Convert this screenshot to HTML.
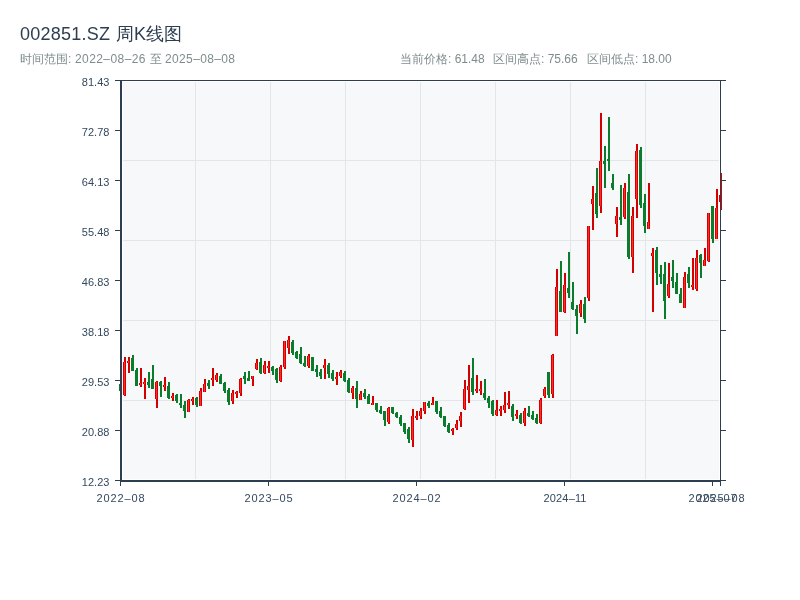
<!DOCTYPE html>
<html><head><meta charset="utf-8">
<style>
html,body{margin:0;padding:0;background:#fff;width:800px;height:600px;overflow:hidden}
svg{display:block}
text{font-family:"Liberation Sans",sans-serif;filter:saturate(1)}
.tk{font-size:11px;fill:#34495e}
.hd{font-size:12px;fill:#7f8c8d}
</style></head><body>
<svg width="800" height="600" viewBox="0 0 800 600">
<defs>
<linearGradient id="rg" x1="0" y1="0" x2="1" y2="0">
<stop offset="0" stop-color="#d40000"/><stop offset="0.34" stop-color="#d40000"/>
<stop offset="0.34" stop-color="#ff2a2a"/><stop offset="0.66" stop-color="#ff2a2a"/>
<stop offset="0.66" stop-color="#d40000"/><stop offset="1" stop-color="#d40000"/>
</linearGradient>
</defs>
<text x="20" y="40" font-size="18" fill="#2c3e50" textLength="90">002851.SZ</text><text x="116" y="40" font-size="18" fill="#2c3e50">周K线图</text>
<text x="20" y="62.8" class="hd">时间范围:</text><text x="75" y="62.8" class="hd" textLength="70.5">2022–08–26</text><text x="149.5" y="62.8" class="hd">至</text><text x="165" y="62.8" class="hd" textLength="70">2025–08–08</text>
<text x="400" y="62.8" class="hd">当前价格: 61.48</text>
<text x="493" y="62.8" class="hd">区间高点: 75.66</text>
<text x="587" y="62.8" class="hd">区间低点: 18.00</text>
<rect x="123" y="82" width="596" height="397" fill="#f7f8fa"/>
<g fill="#e2e6ea">
<rect x="195" y="82" width="1" height="397"/><rect x="270" y="82" width="1" height="397"/><rect x="345" y="82" width="1" height="397"/><rect x="420" y="82" width="1" height="397"/><rect x="495" y="82" width="1" height="397"/><rect x="570" y="82" width="1" height="397"/><rect x="645" y="82" width="1" height="397"/>
<rect x="123" y="160" width="596" height="1"/><rect x="123" y="240" width="596" height="1"/><rect x="123" y="320" width="596" height="1"/><rect x="123" y="400" width="596" height="1"/>
</g>
<g>
<rect x="120" y="382" width="2" height="11" fill="#0a7d2c"/>
<rect x="119" y="384" width="3" height="7" fill="#0a7d2c"/>
<rect x="124" y="357" width="2" height="39" fill="#d40000"/>
<rect x="123" y="362" width="3" height="33" fill="url(#rg)"/>
<rect x="128" y="357" width="2" height="16" fill="#d40000"/>
<rect x="127" y="361" width="3" height="2" fill="url(#rg)"/>
<rect x="132" y="355" width="2" height="16" fill="#0a7d2c"/>
<rect x="131" y="358" width="3" height="13" fill="#0a7d2c"/>
<rect x="136" y="368" width="2" height="18" fill="#0a7d2c"/>
<rect x="135" y="370" width="3" height="16" fill="#0a7d2c"/>
<rect x="140" y="368" width="2" height="19" fill="#d40000"/>
<rect x="139" y="383" width="3" height="2" fill="url(#rg)"/>
<rect x="144" y="378" width="2" height="21" fill="#d40000"/>
<rect x="143" y="382" width="3" height="2" fill="url(#rg)"/>
<rect x="148" y="372" width="2" height="16" fill="#0a7d2c"/>
<rect x="147" y="382" width="3" height="3" fill="#0a7d2c"/>
<rect x="152" y="365" width="2" height="24" fill="#0a7d2c"/>
<rect x="151" y="379" width="3" height="10" fill="#0a7d2c"/>
<rect x="156" y="381" width="2" height="27" fill="#d40000"/>
<rect x="155" y="382" width="3" height="17" fill="url(#rg)"/>
<rect x="160" y="381" width="2" height="16" fill="#0a7d2c"/>
<rect x="159" y="382" width="3" height="4" fill="#0a7d2c"/>
<rect x="164" y="377" width="2" height="14" fill="#d40000"/>
<rect x="163" y="385" width="3" height="2" fill="url(#rg)"/>
<rect x="168" y="382" width="2" height="17" fill="#0a7d2c"/>
<rect x="167" y="386" width="3" height="12" fill="#0a7d2c"/>
<rect x="172" y="393" width="2" height="8" fill="#d40000"/>
<rect x="171" y="396" width="3" height="2" fill="url(#rg)"/>
<rect x="176" y="394" width="2" height="9" fill="#0a7d2c"/>
<rect x="175" y="395" width="3" height="6" fill="#0a7d2c"/>
<rect x="180" y="394" width="2" height="14" fill="#0a7d2c"/>
<rect x="179" y="403" width="3" height="2" fill="#0a7d2c"/>
<rect x="184" y="401" width="2" height="17" fill="#0a7d2c"/>
<rect x="183" y="405" width="3" height="6" fill="#0a7d2c"/>
<rect x="188" y="399" width="2" height="13" fill="#d40000"/>
<rect x="187" y="400" width="3" height="12" fill="url(#rg)"/>
<rect x="192" y="397" width="2" height="8" fill="#d40000"/>
<rect x="191" y="399" width="3" height="2" fill="url(#rg)"/>
<rect x="196" y="397" width="2" height="10" fill="#0a7d2c"/>
<rect x="195" y="398" width="3" height="7" fill="#0a7d2c"/>
<rect x="200" y="388" width="2" height="18" fill="#d40000"/>
<rect x="199" y="391" width="3" height="15" fill="url(#rg)"/>
<rect x="204" y="379" width="2" height="13" fill="#d40000"/>
<rect x="203" y="384" width="3" height="8" fill="url(#rg)"/>
<rect x="208" y="380" width="2" height="9" fill="#0a7d2c"/>
<rect x="207" y="383" width="3" height="3" fill="#0a7d2c"/>
<rect x="212" y="368" width="2" height="18" fill="#d40000"/>
<rect x="211" y="378" width="3" height="2" fill="url(#rg)"/>
<rect x="216" y="373" width="2" height="9" fill="#d40000"/>
<rect x="215" y="375" width="3" height="5" fill="url(#rg)"/>
<rect x="220" y="374" width="2" height="10" fill="#0a7d2c"/>
<rect x="219" y="376" width="3" height="8" fill="#0a7d2c"/>
<rect x="224" y="382" width="2" height="11" fill="#0a7d2c"/>
<rect x="223" y="383" width="3" height="8" fill="#0a7d2c"/>
<rect x="228" y="388" width="2" height="17" fill="#0a7d2c"/>
<rect x="227" y="390" width="3" height="12" fill="#0a7d2c"/>
<rect x="232" y="390" width="2" height="14" fill="#d40000"/>
<rect x="231" y="393" width="3" height="8" fill="url(#rg)"/>
<rect x="236" y="391" width="2" height="7" fill="#d40000"/>
<rect x="235" y="392" width="3" height="2" fill="url(#rg)"/>
<rect x="240" y="378" width="2" height="18" fill="#d40000"/>
<rect x="239" y="379" width="3" height="14" fill="url(#rg)"/>
<rect x="244" y="372" width="2" height="12" fill="#0a7d2c"/>
<rect x="243" y="376" width="3" height="3" fill="#0a7d2c"/>
<rect x="248" y="371" width="2" height="10" fill="#0a7d2c"/>
<rect x="247" y="378" width="3" height="3" fill="#0a7d2c"/>
<rect x="252" y="376" width="2" height="10" fill="#d40000"/>
<rect x="251" y="376" width="3" height="3" fill="url(#rg)"/>
<rect x="256" y="359" width="2" height="11" fill="#d40000"/>
<rect x="255" y="363" width="3" height="6" fill="url(#rg)"/>
<rect x="260" y="358" width="2" height="16" fill="#0a7d2c"/>
<rect x="259" y="362" width="3" height="11" fill="#0a7d2c"/>
<rect x="264" y="361" width="2" height="13" fill="#d40000"/>
<rect x="263" y="365" width="3" height="8" fill="url(#rg)"/>
<rect x="268" y="361" width="2" height="12" fill="#d40000"/>
<rect x="267" y="366" width="3" height="2" fill="url(#rg)"/>
<rect x="272" y="366" width="2" height="9" fill="#0a7d2c"/>
<rect x="271" y="367" width="3" height="4" fill="#0a7d2c"/>
<rect x="276" y="368" width="2" height="15" fill="#0a7d2c"/>
<rect x="275" y="369" width="3" height="11" fill="#0a7d2c"/>
<rect x="280" y="365" width="2" height="17" fill="#d40000"/>
<rect x="279" y="367" width="3" height="14" fill="url(#rg)"/>
<rect x="284" y="341" width="2" height="28" fill="#d40000"/>
<rect x="283" y="341" width="3" height="26" fill="url(#rg)"/>
<rect x="288" y="336" width="2" height="18" fill="#d40000"/>
<rect x="287" y="340" width="3" height="8" fill="url(#rg)"/>
<rect x="292" y="340" width="2" height="15" fill="#0a7d2c"/>
<rect x="291" y="342" width="3" height="11" fill="#0a7d2c"/>
<rect x="296" y="351" width="2" height="8" fill="#0a7d2c"/>
<rect x="295" y="352" width="3" height="6" fill="#0a7d2c"/>
<rect x="300" y="347" width="2" height="17" fill="#0a7d2c"/>
<rect x="299" y="354" width="3" height="9" fill="#0a7d2c"/>
<rect x="304" y="356" width="2" height="11" fill="#0a7d2c"/>
<rect x="303" y="363" width="3" height="3" fill="#0a7d2c"/>
<rect x="308" y="354" width="2" height="14" fill="#d40000"/>
<rect x="307" y="356" width="3" height="10" fill="url(#rg)"/>
<rect x="312" y="357" width="2" height="14" fill="#0a7d2c"/>
<rect x="311" y="357" width="3" height="14" fill="#0a7d2c"/>
<rect x="316" y="365" width="2" height="12" fill="#0a7d2c"/>
<rect x="315" y="369" width="3" height="3" fill="#0a7d2c"/>
<rect x="320" y="369" width="2" height="10" fill="#0a7d2c"/>
<rect x="319" y="372" width="3" height="4" fill="#0a7d2c"/>
<rect x="324" y="359" width="2" height="20" fill="#d40000"/>
<rect x="323" y="365" width="3" height="3" fill="url(#rg)"/>
<rect x="328" y="363" width="2" height="15" fill="#0a7d2c"/>
<rect x="327" y="365" width="3" height="9" fill="#0a7d2c"/>
<rect x="332" y="370" width="2" height="11" fill="#0a7d2c"/>
<rect x="331" y="373" width="3" height="6" fill="#0a7d2c"/>
<rect x="336" y="372" width="2" height="13" fill="#d40000"/>
<rect x="335" y="377" width="3" height="2" fill="url(#rg)"/>
<rect x="340" y="370" width="2" height="8" fill="#d40000"/>
<rect x="339" y="372" width="3" height="4" fill="url(#rg)"/>
<rect x="344" y="371" width="2" height="11" fill="#0a7d2c"/>
<rect x="343" y="373" width="3" height="8" fill="#0a7d2c"/>
<rect x="348" y="378" width="2" height="15" fill="#0a7d2c"/>
<rect x="347" y="380" width="3" height="12" fill="#0a7d2c"/>
<rect x="352" y="386" width="2" height="13" fill="#d40000"/>
<rect x="351" y="388" width="3" height="5" fill="url(#rg)"/>
<rect x="356" y="381" width="2" height="27" fill="#0a7d2c"/>
<rect x="355" y="388" width="3" height="11" fill="#0a7d2c"/>
<rect x="360" y="391" width="2" height="9" fill="#d40000"/>
<rect x="359" y="394" width="3" height="6" fill="url(#rg)"/>
<rect x="364" y="389" width="2" height="10" fill="#0a7d2c"/>
<rect x="363" y="393" width="3" height="4" fill="#0a7d2c"/>
<rect x="368" y="394" width="2" height="10" fill="#0a7d2c"/>
<rect x="367" y="396" width="3" height="8" fill="#0a7d2c"/>
<rect x="372" y="396" width="2" height="9" fill="#d40000"/>
<rect x="371" y="403" width="3" height="2" fill="url(#rg)"/>
<rect x="376" y="403" width="2" height="9" fill="#0a7d2c"/>
<rect x="375" y="403" width="3" height="7" fill="#0a7d2c"/>
<rect x="380" y="406" width="2" height="8" fill="#0a7d2c"/>
<rect x="379" y="410" width="3" height="3" fill="#0a7d2c"/>
<rect x="384" y="411" width="2" height="15" fill="#0a7d2c"/>
<rect x="383" y="411" width="3" height="9" fill="#0a7d2c"/>
<rect x="388" y="407" width="2" height="17" fill="#d40000"/>
<rect x="387" y="408" width="3" height="14" fill="url(#rg)"/>
<rect x="392" y="407" width="2" height="7" fill="#0a7d2c"/>
<rect x="391" y="407" width="3" height="6" fill="#0a7d2c"/>
<rect x="396" y="412" width="2" height="6" fill="#0a7d2c"/>
<rect x="395" y="413" width="3" height="4" fill="#0a7d2c"/>
<rect x="400" y="415" width="2" height="11" fill="#0a7d2c"/>
<rect x="399" y="417" width="3" height="7" fill="#0a7d2c"/>
<rect x="404" y="423" width="2" height="11" fill="#0a7d2c"/>
<rect x="403" y="423" width="3" height="9" fill="#0a7d2c"/>
<rect x="408" y="427" width="2" height="16" fill="#0a7d2c"/>
<rect x="407" y="429" width="3" height="10" fill="#0a7d2c"/>
<rect x="412" y="409" width="2" height="38" fill="#d40000"/>
<rect x="411" y="416" width="3" height="24" fill="url(#rg)"/>
<rect x="416" y="411" width="2" height="9" fill="#d40000"/>
<rect x="415" y="416" width="3" height="2" fill="url(#rg)"/>
<rect x="420" y="408" width="2" height="11" fill="#d40000"/>
<rect x="419" y="411" width="3" height="5" fill="url(#rg)"/>
<rect x="424" y="402" width="2" height="12" fill="#d40000"/>
<rect x="423" y="402" width="3" height="9" fill="url(#rg)"/>
<rect x="428" y="401" width="2" height="7" fill="#0a7d2c"/>
<rect x="427" y="403" width="3" height="3" fill="#0a7d2c"/>
<rect x="432" y="397" width="2" height="8" fill="#d40000"/>
<rect x="431" y="403" width="3" height="2" fill="url(#rg)"/>
<rect x="436" y="401" width="2" height="13" fill="#0a7d2c"/>
<rect x="435" y="401" width="3" height="11" fill="#0a7d2c"/>
<rect x="440" y="407" width="2" height="11" fill="#0a7d2c"/>
<rect x="439" y="411" width="3" height="6" fill="#0a7d2c"/>
<rect x="444" y="416" width="2" height="11" fill="#0a7d2c"/>
<rect x="443" y="416" width="3" height="10" fill="#0a7d2c"/>
<rect x="448" y="423" width="2" height="10" fill="#0a7d2c"/>
<rect x="447" y="425" width="3" height="7" fill="#0a7d2c"/>
<rect x="452" y="428" width="2" height="7" fill="#d40000"/>
<rect x="451" y="429" width="3" height="2" fill="url(#rg)"/>
<rect x="456" y="420" width="2" height="10" fill="#d40000"/>
<rect x="455" y="424" width="3" height="4" fill="url(#rg)"/>
<rect x="460" y="412" width="2" height="15" fill="#d40000"/>
<rect x="459" y="416" width="3" height="5" fill="url(#rg)"/>
<rect x="464" y="380" width="2" height="30" fill="#d40000"/>
<rect x="463" y="389" width="3" height="20" fill="url(#rg)"/>
<rect x="468" y="365" width="2" height="38" fill="#d40000"/>
<rect x="467" y="386" width="3" height="4" fill="url(#rg)"/>
<rect x="472" y="358" width="2" height="37" fill="#0a7d2c"/>
<rect x="471" y="378" width="3" height="14" fill="#0a7d2c"/>
<rect x="476" y="375" width="2" height="18" fill="#d40000"/>
<rect x="475" y="389" width="3" height="2" fill="url(#rg)"/>
<rect x="480" y="381" width="2" height="14" fill="#d40000"/>
<rect x="479" y="389" width="3" height="2" fill="url(#rg)"/>
<rect x="484" y="379" width="2" height="21" fill="#0a7d2c"/>
<rect x="483" y="393" width="3" height="5" fill="#0a7d2c"/>
<rect x="488" y="396" width="2" height="12" fill="#0a7d2c"/>
<rect x="487" y="398" width="3" height="5" fill="#0a7d2c"/>
<rect x="492" y="400" width="2" height="16" fill="#0a7d2c"/>
<rect x="491" y="401" width="3" height="13" fill="#0a7d2c"/>
<rect x="496" y="400" width="2" height="16" fill="#d40000"/>
<rect x="495" y="410" width="3" height="5" fill="url(#rg)"/>
<rect x="500" y="406" width="2" height="10" fill="#d40000"/>
<rect x="499" y="409" width="3" height="2" fill="url(#rg)"/>
<rect x="504" y="392" width="2" height="21" fill="#d40000"/>
<rect x="503" y="405" width="3" height="5" fill="url(#rg)"/>
<rect x="508" y="391" width="2" height="18" fill="#d40000"/>
<rect x="507" y="403" width="3" height="2" fill="url(#rg)"/>
<rect x="512" y="404" width="2" height="17" fill="#0a7d2c"/>
<rect x="511" y="406" width="3" height="11" fill="#0a7d2c"/>
<rect x="516" y="410" width="2" height="9" fill="#d40000"/>
<rect x="515" y="414" width="3" height="2" fill="url(#rg)"/>
<rect x="520" y="413" width="2" height="11" fill="#0a7d2c"/>
<rect x="519" y="415" width="3" height="8" fill="#0a7d2c"/>
<rect x="524" y="408" width="2" height="18" fill="#d40000"/>
<rect x="523" y="411" width="3" height="12" fill="url(#rg)"/>
<rect x="528" y="406" width="2" height="11" fill="#0a7d2c"/>
<rect x="527" y="413" width="3" height="3" fill="#0a7d2c"/>
<rect x="532" y="411" width="2" height="9" fill="#0a7d2c"/>
<rect x="531" y="415" width="3" height="4" fill="#0a7d2c"/>
<rect x="536" y="414" width="2" height="10" fill="#0a7d2c"/>
<rect x="535" y="418" width="3" height="5" fill="#0a7d2c"/>
<rect x="540" y="398" width="2" height="26" fill="#d40000"/>
<rect x="539" y="400" width="3" height="23" fill="url(#rg)"/>
<rect x="544" y="387" width="2" height="11" fill="#d40000"/>
<rect x="543" y="389" width="3" height="7" fill="url(#rg)"/>
<rect x="548" y="372" width="2" height="26" fill="#0a7d2c"/>
<rect x="547" y="372" width="3" height="23" fill="#0a7d2c"/>
<rect x="552" y="354" width="2" height="44" fill="#d40000"/>
<rect x="551" y="355" width="3" height="39" fill="url(#rg)"/>
<rect x="556" y="269" width="2" height="67" fill="#d40000"/>
<rect x="555" y="287" width="3" height="49" fill="url(#rg)"/>
<rect x="560" y="261" width="2" height="51" fill="#0a7d2c"/>
<rect x="559" y="291" width="3" height="21" fill="#0a7d2c"/>
<rect x="564" y="273" width="2" height="40" fill="#d40000"/>
<rect x="563" y="285" width="3" height="27" fill="url(#rg)"/>
<rect x="568" y="252" width="2" height="46" fill="#0a7d2c"/>
<rect x="567" y="288" width="3" height="5" fill="#0a7d2c"/>
<rect x="572" y="282" width="2" height="28" fill="#0a7d2c"/>
<rect x="571" y="302" width="3" height="7" fill="#0a7d2c"/>
<rect x="576" y="305" width="2" height="29" fill="#0a7d2c"/>
<rect x="575" y="309" width="3" height="7" fill="#0a7d2c"/>
<rect x="580" y="300" width="2" height="17" fill="#d40000"/>
<rect x="579" y="304" width="3" height="9" fill="url(#rg)"/>
<rect x="584" y="297" width="2" height="26" fill="#0a7d2c"/>
<rect x="583" y="304" width="3" height="15" fill="#0a7d2c"/>
<rect x="588" y="226" width="2" height="75" fill="#d40000"/>
<rect x="587" y="226" width="3" height="72" fill="url(#rg)"/>
<rect x="592" y="186" width="2" height="44" fill="#d40000"/>
<rect x="591" y="199" width="3" height="5" fill="url(#rg)"/>
<rect x="596" y="168" width="2" height="50" fill="#0a7d2c"/>
<rect x="595" y="193" width="3" height="21" fill="#0a7d2c"/>
<rect x="600" y="113" width="2" height="100" fill="#d40000"/>
<rect x="599" y="161" width="3" height="45" fill="url(#rg)"/>
<rect x="604" y="146" width="2" height="42" fill="#0a7d2c"/>
<rect x="603" y="161" width="3" height="3" fill="#0a7d2c"/>
<rect x="608" y="117" width="2" height="54" fill="#0a7d2c"/>
<rect x="607" y="159" width="3" height="2" fill="#0a7d2c"/>
<rect x="612" y="174" width="2" height="16" fill="#0a7d2c"/>
<rect x="611" y="183" width="3" height="5" fill="#0a7d2c"/>
<rect x="616" y="207" width="2" height="30" fill="#d40000"/>
<rect x="615" y="216" width="3" height="8" fill="url(#rg)"/>
<rect x="620" y="185" width="2" height="40" fill="#0a7d2c"/>
<rect x="619" y="217" width="3" height="3" fill="#0a7d2c"/>
<rect x="624" y="183" width="2" height="36" fill="#d40000"/>
<rect x="623" y="188" width="3" height="29" fill="url(#rg)"/>
<rect x="628" y="174" width="2" height="85" fill="#0a7d2c"/>
<rect x="627" y="192" width="3" height="65" fill="#0a7d2c"/>
<rect x="632" y="207" width="2" height="66" fill="#d40000"/>
<rect x="631" y="216" width="3" height="41" fill="url(#rg)"/>
<rect x="636" y="144" width="2" height="74" fill="#d40000"/>
<rect x="635" y="151" width="3" height="48" fill="url(#rg)"/>
<rect x="640" y="147" width="2" height="61" fill="#0a7d2c"/>
<rect x="639" y="150" width="3" height="55" fill="#0a7d2c"/>
<rect x="644" y="194" width="2" height="39" fill="#0a7d2c"/>
<rect x="643" y="203" width="3" height="23" fill="#0a7d2c"/>
<rect x="648" y="183" width="2" height="46" fill="#d40000"/>
<rect x="647" y="222" width="3" height="7" fill="url(#rg)"/>
<rect x="652" y="248" width="2" height="64" fill="#d40000"/>
<rect x="651" y="253" width="3" height="3" fill="url(#rg)"/>
<rect x="656" y="247" width="2" height="38" fill="#0a7d2c"/>
<rect x="655" y="250" width="3" height="23" fill="#0a7d2c"/>
<rect x="660" y="265" width="2" height="19" fill="#0a7d2c"/>
<rect x="659" y="274" width="3" height="3" fill="#0a7d2c"/>
<rect x="664" y="262" width="2" height="57" fill="#0a7d2c"/>
<rect x="663" y="274" width="3" height="27" fill="#0a7d2c"/>
<rect x="668" y="263" width="2" height="35" fill="#d40000"/>
<rect x="667" y="284" width="3" height="12" fill="url(#rg)"/>
<rect x="672" y="260" width="2" height="28" fill="#0a7d2c"/>
<rect x="671" y="277" width="3" height="4" fill="#0a7d2c"/>
<rect x="676" y="273" width="2" height="21" fill="#0a7d2c"/>
<rect x="675" y="282" width="3" height="12" fill="#0a7d2c"/>
<rect x="680" y="288" width="2" height="15" fill="#0a7d2c"/>
<rect x="679" y="294" width="3" height="9" fill="#0a7d2c"/>
<rect x="684" y="272" width="2" height="36" fill="#d40000"/>
<rect x="683" y="277" width="3" height="31" fill="url(#rg)"/>
<rect x="688" y="267" width="2" height="21" fill="#0a7d2c"/>
<rect x="687" y="274" width="3" height="9" fill="#0a7d2c"/>
<rect x="692" y="258" width="2" height="32" fill="#d40000"/>
<rect x="691" y="285" width="3" height="2" fill="url(#rg)"/>
<rect x="696" y="250" width="2" height="41" fill="#d40000"/>
<rect x="695" y="258" width="3" height="31" fill="url(#rg)"/>
<rect x="700" y="254" width="2" height="24" fill="#0a7d2c"/>
<rect x="699" y="255" width="3" height="8" fill="#0a7d2c"/>
<rect x="704" y="248" width="2" height="18" fill="#d40000"/>
<rect x="703" y="260" width="3" height="6" fill="url(#rg)"/>
<rect x="708" y="213" width="2" height="49" fill="#d40000"/>
<rect x="707" y="213" width="3" height="48" fill="url(#rg)"/>
<rect x="712" y="206" width="2" height="37" fill="#0a7d2c"/>
<rect x="711" y="206" width="3" height="33" fill="#0a7d2c"/>
<rect x="716" y="189" width="2" height="50" fill="#d40000"/>
<rect x="715" y="208" width="3" height="31" fill="url(#rg)"/>
<rect x="720" y="173" width="2" height="37" fill="#d40000"/>
<rect x="719" y="195" width="3" height="7" fill="url(#rg)"/>
</g>
<g fill="#2c3e50">
<rect x="115" y="80" width="611" height="1"/>
<rect x="120" y="80" width="2" height="402"/>
<rect x="120" y="480" width="601" height="2"/>
<rect x="720" y="80" width="1" height="406"/>
</g>
<rect x="115" y="80" width="5" height="1" fill="#2c3e50"/>
<rect x="721" y="80" width="5" height="1" fill="#2c3e50"/>
<text x="109.4" y="86" text-anchor="end" class="tk">81.43</text>
<rect x="115" y="130" width="5" height="1" fill="#2c3e50"/>
<rect x="721" y="130" width="5" height="1" fill="#2c3e50"/>
<text x="109.4" y="136" text-anchor="end" class="tk">72.78</text>
<rect x="115" y="180" width="5" height="1" fill="#2c3e50"/>
<rect x="721" y="180" width="5" height="1" fill="#2c3e50"/>
<text x="109.4" y="186" text-anchor="end" class="tk">64.13</text>
<rect x="115" y="230" width="5" height="1" fill="#2c3e50"/>
<rect x="721" y="230" width="5" height="1" fill="#2c3e50"/>
<text x="109.4" y="236" text-anchor="end" class="tk">55.48</text>
<rect x="115" y="280" width="5" height="1" fill="#2c3e50"/>
<rect x="721" y="280" width="5" height="1" fill="#2c3e50"/>
<text x="109.4" y="286" text-anchor="end" class="tk">46.83</text>
<rect x="115" y="330" width="5" height="1" fill="#2c3e50"/>
<rect x="721" y="330" width="5" height="1" fill="#2c3e50"/>
<text x="109.4" y="336" text-anchor="end" class="tk">38.18</text>
<rect x="115" y="380" width="5" height="1" fill="#2c3e50"/>
<rect x="721" y="380" width="5" height="1" fill="#2c3e50"/>
<text x="109.4" y="386" text-anchor="end" class="tk">29.53</text>
<rect x="115" y="430" width="5" height="1" fill="#2c3e50"/>
<rect x="721" y="430" width="5" height="1" fill="#2c3e50"/>
<text x="109.4" y="436" text-anchor="end" class="tk">20.88</text>
<rect x="115" y="480" width="5" height="1" fill="#2c3e50"/>
<rect x="721" y="480" width="5" height="1" fill="#2c3e50"/>
<text x="109.4" y="486" text-anchor="end" class="tk">12.23</text>
<rect x="120" y="482" width="1" height="4" fill="#2c3e50"/>
<text x="96.5" y="502" textLength="48" class="tk">2022–08</text>
<rect x="268" y="482" width="1" height="4" fill="#2c3e50"/>
<text x="244.5" y="502" textLength="48" class="tk">2023–05</text>
<rect x="416" y="482" width="1" height="4" fill="#2c3e50"/>
<text x="392.5" y="502" textLength="48" class="tk">2024–02</text>
<rect x="564" y="482" width="1" height="4" fill="#2c3e50"/>
<text x="543.5" y="502" textLength="43" class="tk">2024–11</text>
<rect x="712" y="482" width="1" height="4" fill="#2c3e50"/>
<text x="688.5" y="502" textLength="48" class="tk">2025–07</text>
<rect x="720" y="482" width="1" height="4" fill="#2c3e50"/>
<text x="696.5" y="502" textLength="48" class="tk">2025–08</text>
</svg>
</body></html>
